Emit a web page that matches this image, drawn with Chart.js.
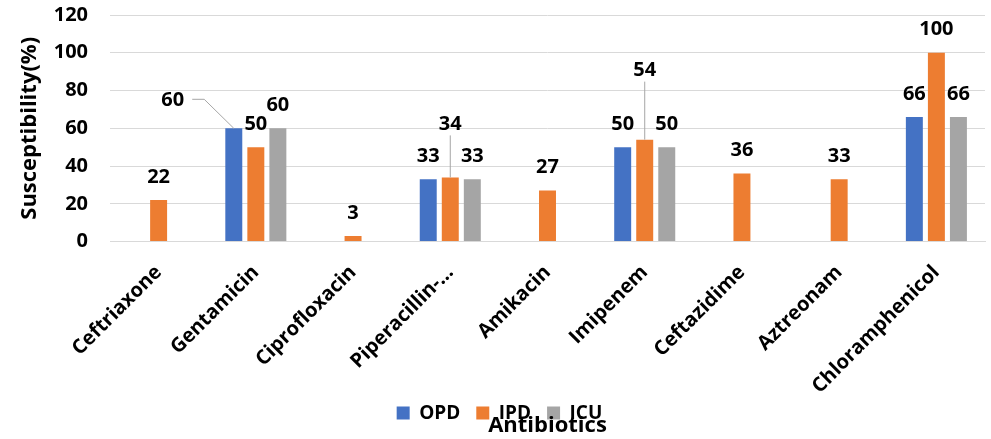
<!DOCTYPE html>
<html>
<head>
<meta charset="utf-8">
<script src="https://cdn.jsdelivr.net/npm/chart.js@4/dist/chart.umd.min.js"></script>
<style>
  html, body { margin: 0; padding: 0; background: #fff; }
  #wrap { width: 991px; height: 439px; position: relative; }
</style>
</head>
<body>
<div id="wrap"><canvas id="chart"></canvas></div>
<script>
// ── data ────────────────────────────────────────────────
const ANTIBIOTICS = [
  "Ceftriaxone", "Gentamicin", "Ciprofloxacin", "Piperacillin-…", "Amikacin",
  "Imipenem", "Ceftazidime", "Aztreonam", "Chloramphenicol",
];
const OPD = [null, 60, null, 33, null, 50, null, null, 66];
const IPD = [22,   50, 3,    34, 27,   54, 36,   33,   100];
const ICU = [null, 60, null, 33, null, 50, null, null, 66];
const Y_TICKS = [0, 20, 40, 60, 80, 100, 120];

const COLORS = { OPD: "#4472C4", IPD: "#ED7D31", ICU: "#A5A5A5" };
const FONT = "'Open Sans'";

// labels that were dragged off their bar (dataset, index, shift, leader style)
const MOVED_LABELS = [
  { ds: 0, i: 1, dx: -61, lift: 5,  leader: "elbow" },
  { ds: 1, i: 3, dx: 0,   lift: 30, leader: "down" },
  { ds: 1, i: 5, dx: 0,   lift: 46, leader: "down" },
];

// ── value labels above bars ─────────────────────────────
const valueLabels = {
  id: "valueLabels",
  afterDatasetsDraw(chart) {
    const ctx = chart.ctx;
    ctx.save();
    ctx.font = `bold 20px ${FONT}`;
    ctx.fillStyle = "#000";
    ctx.textAlign = "center";
    ctx.textBaseline = "middle";
    ctx.strokeStyle = "#A6A6A6";
    ctx.lineWidth = 1;
    chart.data.datasets.forEach((ds, di) => {
      chart.getDatasetMeta(di).data.forEach((bar, i) => {
        const v = ds.data[i];
        if (v == null) return;
        const mv = MOVED_LABELS.find(m => m.ds === di && m.i === i);
        const x = bar.x + (mv ? mv.dx : 0);
        const y = bar.y - 24 - (mv ? mv.lift : 0);
        if (mv && mv.leader === "elbow") {
          const w = ctx.measureText(String(v)).width;
          const sx = x + w / 2 + 8;
          ctx.beginPath();
          ctx.moveTo(sx, y);
          ctx.lineTo(sx + 12, y);
          ctx.lineTo(bar.x, bar.y);
          ctx.stroke();
        } else if (mv && mv.leader === "down") {
          ctx.beginPath();
          ctx.moveTo(bar.x, y + 12);
          ctx.lineTo(bar.x, bar.y);
          ctx.stroke();
        }
        ctx.fillText(String(v), x, y + 1);
      });
    });
    ctx.restore();
  },
};

new Chart(document.getElementById("chart").getContext("2d"), {
  type: "bar",
  data: {
    labels: ANTIBIOTICS,
    datasets: [
      { label: "OPD", data: OPD, backgroundColor: COLORS.OPD },
      { label: "IPD", data: IPD, backgroundColor: COLORS.IPD },
      { label: "ICU", data: ICU, backgroundColor: COLORS.ICU },
    ],
  },
  options: {
    responsive: true,
    maintainAspectRatio: false,
    animation: false,
    categoryPercentage: 0.68,
    barPercentage: 0.77,
    layout: { autoPadding: false, padding: { top: 0, right: 6, left: 14, bottom: 0 } },
    scales: {
      x: {
        grid: { display: false },
        border: { display: true, color: "#D9D9D9" },
        ticks: {
          color: "#000",
          font: { family: FONT, size: 20, weight: "bold" },
          minRotation: 45,
          maxRotation: 45,
          autoSkip: false,
          padding: 11,
        },
        afterFit: scale => {
          scale.height = 146;
          scale._computeLabelArea = () => undefined;   // no clipping of long rotated labels
        },
      },
      y: {
        min: 0,
        max: 120,
        afterBuildTicks: scale => { scale.ticks = Y_TICKS.map(v => ({ value: v })); },
        grid: { color: "#D9D9D9", drawTicks: false },
        border: { display: false },
        ticks: {
          color: "#000",
          font: { family: FONT, size: 20, weight: "bold" },
          padding: 22,
        },
        title: {
          display: true,
          text: "Susceptibility(%)",
          color: "#000",
          font: { family: FONT, size: 22, weight: "bold" },
          padding: { top: 3, bottom: 0 },
        },
        afterFit: scale => {
          scale.width = 96;
          scale.paddingTop = 15;
          scale.paddingBottom = 0;
        },
      },
    },
    plugins: {
      legend: {
        position: "bottom",
        labels: {
          color: "#000",
          font: { family: FONT, size: 19, weight: "bold" },
          boxWidth: 13,
          boxHeight: 13,
          padding: 16,
        },
      },
      title: {
        display: true,
        position: "bottom",
        fullSize: false,
        text: "Antibiotics",
        color: "#000",
        font: { family: FONT, size: 22, weight: "bold" },
        padding: { top: -20, bottom: 0 },
      },
      tooltip: { enabled: false },
    },
  },
  plugins: [valueLabels],
});
</script>
</body>
</html>
